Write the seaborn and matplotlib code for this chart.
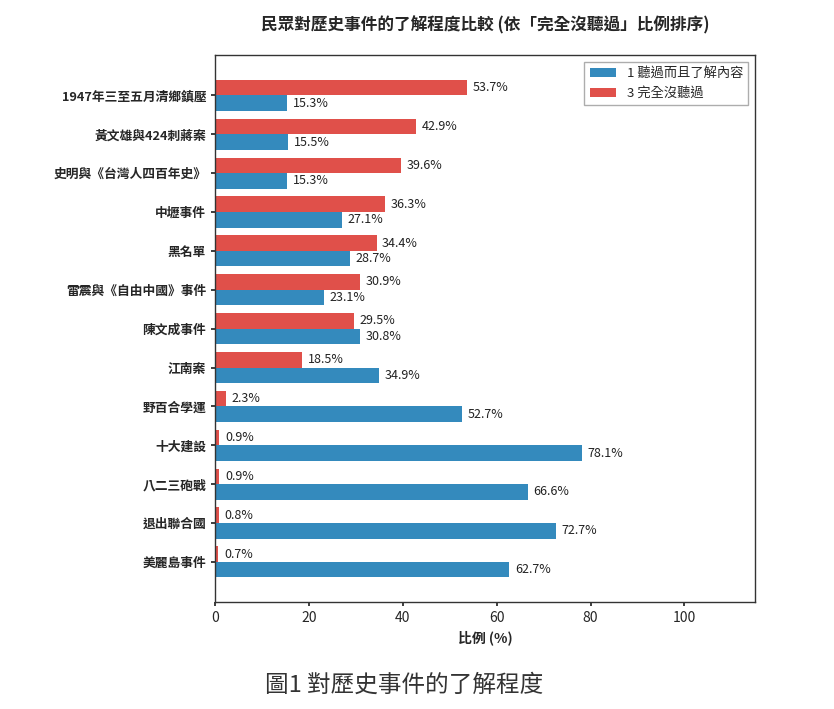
import numpy as np
import pandas as pd
import matplotlib
matplotlib.use("Agg")
import matplotlib.pyplot as plt
import seaborn as sns

events = [
    "1947年三至五月清鄉鎮壓",
    "黃文雄與424刺蔣案",
    "史明與《台灣人四百年史》",
    "中壢事件",
    "黑名單",
    "雷震與《自由中國》事件",
    "陳文成事件",
    "江南案",
    "野百合學運",
    "十大建設",
    "八二三砲戰",
    "退出聯合國",
    "美麗島事件",
]
never_heard = [53.7, 42.9, 39.6, 36.3, 34.4, 30.9, 29.5, 18.5, 2.3, 0.9, 0.9, 0.8, 0.7]
understand = [15.3, 15.5, 15.3, 27.1, 28.7, 23.1, 30.8, 34.9, 52.7, 78.1, 66.6, 72.7, 62.7]

LBL_NEVER = "3 完全沒聽過"
LBL_KNOW = "1 聽過而且了解內容"

df = pd.concat([
    pd.DataFrame({"事件": events, "比例": never_heard, "回答": LBL_NEVER}),
    pd.DataFrame({"事件": events, "比例": understand, "回答": LBL_KNOW}),
])

sns.set_theme(style="white")
plt.rcParams["font.family"] = ["Noto Sans CJK TC", "DejaVu Sans"]

fig = plt.figure(figsize=(8.34, 7.09), dpi=100)
ax = fig.add_axes([0.258, 0.151, 0.647, 0.771])

palette = {LBL_NEVER: "#E0504A", LBL_KNOW: "#348ABD"}
sns.barplot(data=df, y="事件", x="比例", hue="回答", hue_order=[LBL_NEVER, LBL_KNOW],
            palette=palette, orient="h", width=0.8, saturation=1, linewidth=0, ax=ax)

for cont in ax.containers:
    ax.bar_label(cont, labels=[f"{v:.1f}%" for v in cont.datavalues], padding=4,
                 fontsize=9, color="#222222")

ax.set_xlim(0, 115)
ax.set_ylim(12 + 1.03, -1.03)
ax.set_xticks([0, 20, 40, 60, 80, 100])
ax.set_xlabel("比例 (%)", fontsize=10, fontweight="bold")
ax.set_ylabel("")
ax.tick_params(axis="y", labelsize=9.2, length=3, left=True)
ax.tick_params(axis="x", labelsize=10, length=3, bottom=True)
for lab in ax.get_yticklabels():
    lab.set_fontweight("bold")
for sp in ax.spines.values():
    sp.set_color("#333333")
    sp.set_linewidth(1.0)

handles, labels = ax.get_legend_handles_labels()
order = [labels.index(LBL_KNOW), labels.index(LBL_NEVER)]
ax.legend([handles[i] for i in order], [labels[i] for i in order], loc="upper right",
          fontsize=9.5, frameon=True, fancybox=False, edgecolor="#999999")

ax.set_title("民眾對歷史事件的了解程度比較 (依「完全沒聽過」比例排序)", fontsize=12,
             fontweight="bold", pad=18)

fig.text(0.485, 0.034, "圖1 對歷史事件的了解程度", ha="center", va="center",
         fontsize=17, color="#333333")

fig.savefig("out.png", dpi=100, facecolor="white")
